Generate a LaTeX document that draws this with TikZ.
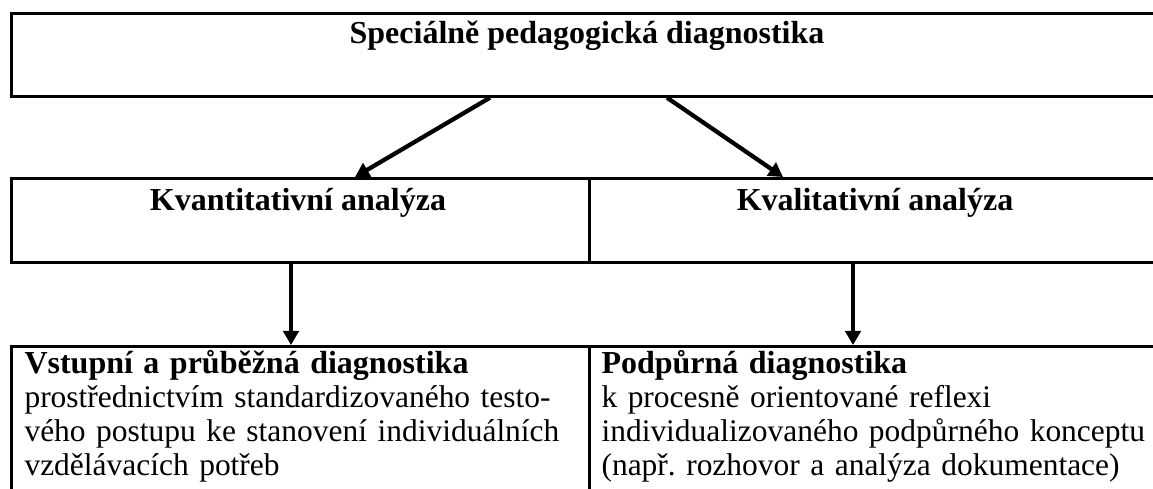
\documentclass[tikz,border=0pt]{standalone}
\usepackage{fontspec}
\setmainfont{Liberation Serif}
\usetikzlibrary{arrows.meta,calc}
\frenchspacing
\begin{document}
\begin{tikzpicture}[x=0.375pt,y=-0.375pt,
  cell/.style={draw,line width=1pt,inner sep=0pt,anchor=north west},
  arr/.style={line width=1.6pt,-{Triangle[length=5.3pt,width=5.8pt]}},
  head/.style={font=\bfseries\fontsize{12}{13}\selectfont,inner sep=0pt,anchor=base},
  body/.style={font=\fontsize{11.8}{12.8}\selectfont,inner sep=0pt,anchor=base west,align=left}]
\useasboundingbox (0,0) rectangle (1153,488);
% cells
\node[cell,minimum width=432.375pt,minimum height=31.125pt] (top) at (10,12) {};
\node[cell,minimum width=216.75pt,minimum height=31.5pt] (midL) at (10,177) {};
\node[cell,minimum width=215.625pt,minimum height=31.5pt] (midR) at (588,177) {};
\node[cell,minimum width=216.75pt,minimum height=65.625pt] (botL) at (10,345) {};
\node[cell,minimum width=215.625pt,minimum height=65.625pt] (botR) at (588,345) {};
% texts
\node[head] (t1) at (587,43) {Speciálně pedagogická diagnostika};
\node[head] (t2) at (298,210) {Kvantitativní analýza};
\node[head] (t3) at (875,210) {Kvalitativní analýza};
\node[body,text width=205.5pt] (b1) at (24,373) {{\fontsize{12}{12.8}\selectfont\bfseries Vstupní a průběžná diagnostika}\\
\makebox[205.5pt][s]{prostřednictvím standardizovaného testo-}\\
\makebox[205.5pt][s]{vého postupu ke stanovení individuálních}\\
vzdělávacích potřeb};
\node[body,text width=210pt] (b2) at (601,373) {{\fontsize{12}{12.8}\selectfont\bfseries Podpůrná diagnostika}\\
k procesně orientované reflexi\\
individualizovaného podpůrného konceptu\\
(např. rozhovor a analýza dokumentace)};
% arrows
\draw[arr] ($(top.south west)+(480,0)$) -- ($(midL.north west)+(345,0)$);
\draw[arr] ($(top.south west)+(657,0)$) -- ($(midR.north west)+(195,0)$);
\draw[arr] ($(midL.south west)+(281,0)$) -- ($(botL.north west)+(281,0)$);
\draw[arr] ($(midR.south west)+(265,0)$) -- ($(botR.north west)+(265,0)$);
\end{tikzpicture}
\end{document}
